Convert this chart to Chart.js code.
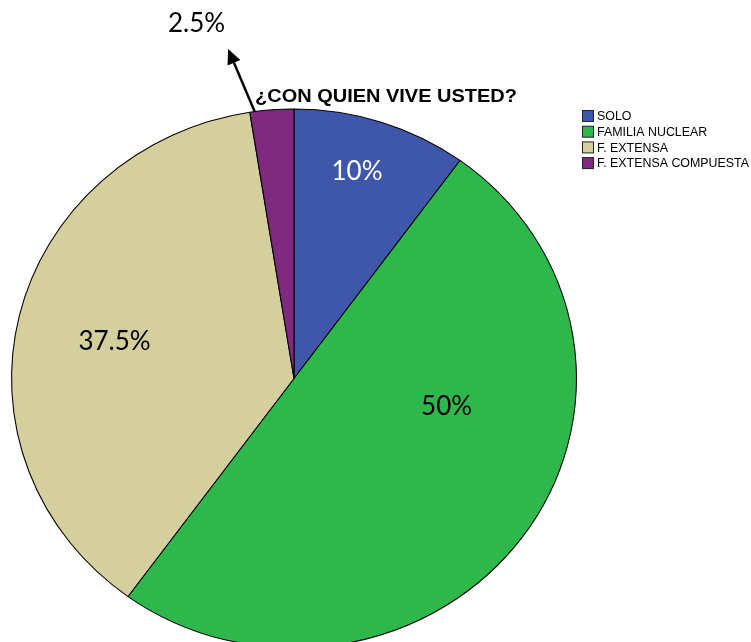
<!DOCTYPE html>
<html>
<head>
<meta charset="utf-8">
<script src="https://cdn.jsdelivr.net/npm/chart.js@4"></script>
<style>
    html, body { margin: 0; padding: 0; background: #fff; overflow: hidden; }
    #wrap { position: relative; width: 751px; height: 700px; }
</style>
</head>
<body>
<div id="wrap"><canvas id="pie"></canvas></div>
<script>
// ========== Datos ==========

const categorias  = ['SOLO', 'FAMILIA NUCLEAR', 'F. EXTENSA', 'F. EXTENSA COMPUESTA'];
const porcentajes = [10, 50, 37.5, 2.5];
const colores     = ['#3f57ab', '#2eb84b', '#d4cf9c', '#7e2a7f'];
const titulo      = '¿CON QUIEN VIVE USTED?';

// posición de cada etiqueta dentro de su rebanada (fracción del ángulo, fracción del radio)
const etqAngulo = [0.45, 0.36, 0.49, null];
const etqRadio  = [0.80, 0.55, 0.65, null];
const etqColor  = ['#ffffff', '#000000', '#000000', '#000000'];

// el gráfico original es un poco más ancho que alto
const ESTIRAR_X = 1.048;

const fmt = v => `${v}%`;

// ========== Plugins ==========

// estira las rebanadas horizontalmente alrededor del centro
const elipse = {
    id: 'elipse',
    beforeDatasetsDraw(chart) {
        const arc = chart.getDatasetMeta(0).data[0];
        const ctx = chart.ctx;
        ctx.save();
        ctx.translate(arc.x, arc.y);
        ctx.scale(ESTIRAR_X, 1);
        ctx.translate(-arc.x, -arc.y);
    },
    afterDatasetsDraw(chart) {
        chart.ctx.restore();
    }
};

function punto(arc, angulo, fr) {
    // angulo en radianes al estilo canvas (0 = derecha)
    return {
        x: arc.x + Math.cos(angulo) * arc.outerRadius * fr * ESTIRAR_X,
        y: arc.y + Math.sin(angulo) * arc.outerRadius * fr
    };
}

// texto a la izquierda, comprimido/ensanchado para ocupar un ancho dado
function textoAncho(ctx, txt, x, y, ancho) {
    const w = ctx.measureText(txt).width;
    ctx.save();
    ctx.translate(x, y);
    ctx.scale(ancho / w, 1);
    ctx.fillText(txt, 0, 0);
    ctx.restore();
}

const etiquetas = {
    id: 'etiquetas',
    afterDraw(chart) {
        const ctx = chart.ctx;
        const arcs = chart.getDatasetMeta(0).data;
        ctx.save();
        ctx.font = '26px Lato, "Open Sans", sans-serif';
        ctx.textAlign = 'center';
        ctx.textBaseline = 'middle';

        arcs.forEach((arc, i) => {
            if (etqAngulo[i] == null) return;
            const a = arc.startAngle + (arc.endAngle - arc.startAngle) * etqAngulo[i];
            const p = punto(arc, a, etqRadio[i]);
            ctx.fillStyle = etqColor[i];
            ctx.fillText(fmt(porcentajes[i]), p.x, p.y);
        });

        // rebanada pequeña: flecha hacia afuera con la etiqueta
        const ult = arcs[arcs.length - 1];
        const grado = Math.PI / 180;
        const desde = punto(ult, ult.startAngle + 1 * grado, 1.0);
        const hasta = punto(ult, ult.startAngle - 1.8 * grado, 1.245);
        const ang = Math.atan2(hasta.y - desde.y, hasta.x - desde.x);
        const largo = 15, ancho = 7;
        const base = { x: hasta.x - Math.cos(ang) * largo, y: hasta.y - Math.sin(ang) * largo };

        ctx.strokeStyle = '#000';
        ctx.lineWidth = 2.5;
        ctx.beginPath();
        ctx.moveTo(desde.x, desde.y);
        ctx.lineTo(base.x, base.y);
        ctx.stroke();

        ctx.fillStyle = '#000';
        ctx.beginPath();
        ctx.moveTo(hasta.x, hasta.y);
        ctx.lineTo(base.x + Math.sin(ang) * ancho, base.y - Math.cos(ang) * ancho);
        ctx.lineTo(base.x - Math.sin(ang) * ancho, base.y + Math.cos(ang) * ancho);
        ctx.closePath();
        ctx.fill();

        const t = punto(ult, ult.startAngle - 5.7 * grado, 1.36);
        ctx.fillText(fmt(porcentajes[porcentajes.length - 1]), t.x, t.y);

        // título
        ctx.font = 'bold 18px "Liberation Sans", Arial, sans-serif';
        ctx.textAlign = 'left';
        ctx.textBaseline = 'alphabetic';
        textoAncho(ctx, titulo, 255, 101.5, 262);

        // leyenda
        ctx.font = '12px "Liberation Sans", Arial, sans-serif';
        ctx.textBaseline = 'middle';
        const anchoRef = ctx.measureText(categorias[categorias.length - 1]).width;
        const escala = 152 / anchoRef;
        categorias.forEach((c, i) => {
            const y = 116 + i * 15.7;
            ctx.fillStyle = colores[i];
            ctx.fillRect(582.5, y - 5.5, 11, 11);
            ctx.strokeStyle = '#222';
            ctx.lineWidth = 1;
            ctx.strokeRect(582.5, y - 5.5, 11, 11);
            ctx.fillStyle = '#000';
            textoAncho(ctx, c, 597, y + 1, ctx.measureText(c).width * escala);
        });
        ctx.restore();
    }
};

// ========== Gráfica ==========

new Chart(document.getElementById('pie'), {
    type: 'pie',
    data: {
        labels: categorias,
        datasets: [{
            data: porcentajes,
            backgroundColor: colores,
            borderColor: '#000',
            borderWidth: 1,
        }]
    },
    options: {
        responsive: true,
        maintainAspectRatio: false,
        animation: false,
        layout: { padding: { top: 108, bottom: 51, left: 24, right: 187 } },
        plugins: {
            legend: { display: false },
            tooltip: { enabled: false }
        }
    },
    plugins: [elipse, etiquetas]
});
</script>
</body>
</html>
